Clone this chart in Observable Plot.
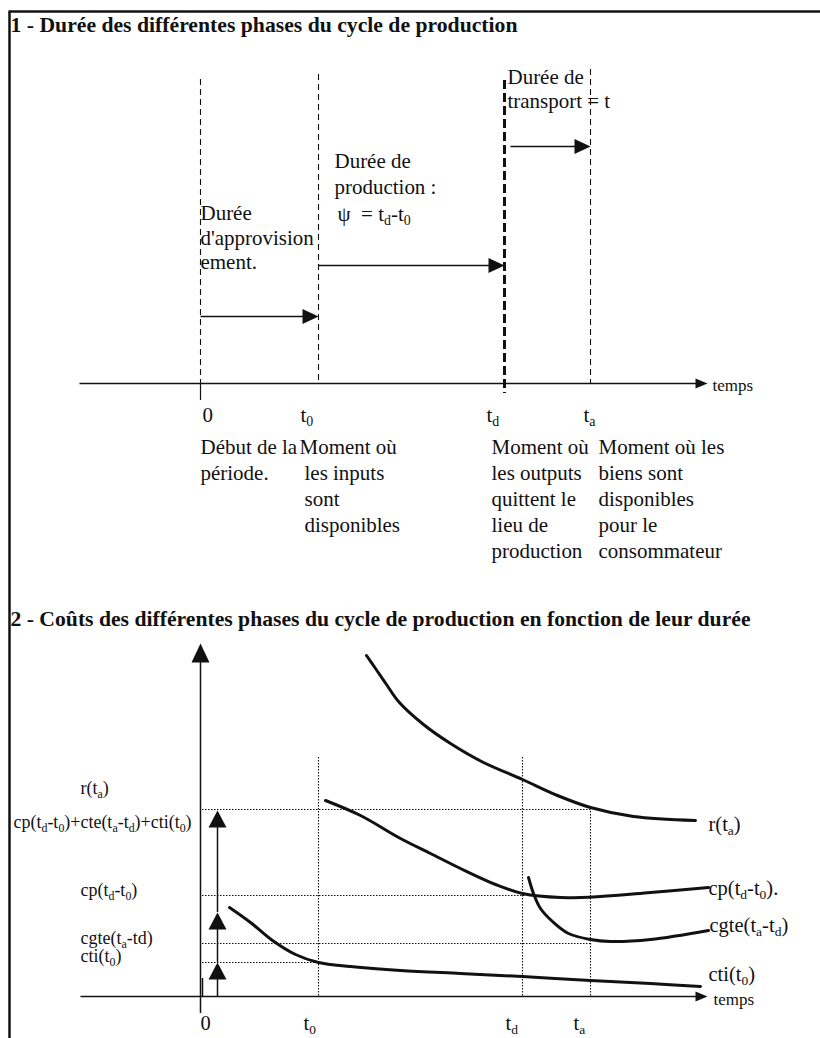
<!DOCTYPE html>
<html><head><meta charset="utf-8">
<script src="https://cdn.jsdelivr.net/npm/d3@7"></script>
<script src="https://cdn.jsdelivr.net/npm/@observablehq/plot@0.6"></script>
<style>html,body{margin:0;padding:0;background:#fff;overflow:hidden}</style>
</head><body><div id="chart"></div>
<script>
// ===== Data (diagram units) =====
const frameLines = [{x1:8,y1:11,x2:820,y2:11},{x1:9,y1:11,x2:9,y2:1038}];
const titles = [
  {x:10, y:25, len:507, text:"1 - Durée des différentes phases du cycle de production"},
  {x:10, y:619, len:740, text:"2 - Coûts des différentes phases du cycle de production en fonction de leur durée"}
];
// Section 1 : phase boundaries
const phaseLines = [
  {name:"0",  x:200, top:79, bottom:383, thick:false},
  {name:"t0", x:318, top:74, bottom:383, thick:false},
  {name:"td", x:504, top:80, bottom:393, thick:true},
  {name:"ta", x:590, top:69, bottom:383, thick:false}
];
const zeroTick1 = [{x:200, y1:383, y2:400}];
const durationArrows = [
  {phase:"approvisionnement", x1:200, x2:318, y:316},
  {phase:"production", x1:318, x2:504, y:265},
  {phase:"transport", x1:510, x2:590, y:146}
];
const timeAxis1 = [{x1:79, x2:707, y:383}];
const durationText = [
  {x:507, y:77, text:"Durée de"},
  {x:507, y:101, text:"transport = t"},
  {x:334, y:161, text:"Durée de"},
  {x:334, y:187, text:"production :"},
  {x:337, y:214, text:"ψ  = t_d-t_0"},
  {x:200, y:213, text:"Durée"},
  {x:200, y:238, text:"d'approvision"},
  {x:200, y:262, text:"ement."}
];
const tickLabels1 = [
  {x:202, text:"0"}, {x:300, text:"t_0"}, {x:486, text:"t_d"}, {x:583, text:"t_a"}
];
const momentText = [
  {x:200, row:0, text:"Début de la"}, {x:200, row:1, text:"période."},
  {x:299, row:0, text:"Moment où"}, {x:304, row:1, text:"les inputs"},
  {x:304, row:2, text:"sont"}, {x:304, row:3, text:"disponibles"},
  {x:491, row:0, text:"Moment où"}, {x:491, row:1, text:"les outputs"},
  {x:491, row:2, text:"quittent le"}, {x:491, row:3, text:"lieu de"},
  {x:491, row:4, text:"production"},
  {x:598, row:0, text:"Moment où les"}, {x:598, row:1, text:"biens sont"},
  {x:598, row:2, text:"disponibles"}, {x:598, row:3, text:"pour le"},
  {x:598, row:4, text:"consommateur"}
];
const momentRows = [447, 473, 499, 525, 551];

// Section 2 : costs
const costAxisX = [{x1:80, x2:707, y:996}];
const costAxisY = [{x:200, y1:1013, y2:643}];
const smallBar = [{x:202, y1:978, y2:996}];
const costLevels = [
  {name:"r(ta)", y:809, xEnd:590},
  {name:"cp", y:895, xEnd:525},
  {name:"cgte", y:943, xEnd:590},
  {name:"cti", y:962, xEnd:318}
];
const timeLines2 = [
  {name:"t0", x:318, top:757},
  {name:"td", x:522, top:757},
  {name:"ta", x:590, top:808}
];
const stackArrows = [
  {x:217, from:996, to:962},
  {x:217, from:962, to:912},
  {x:217, from:912, to:810}
];
const rCurve = [[366,655],[375,668],[386,684],[398,701],[423,724],[450,743],[483,762],[522,779],[557,795],[590,807],[633,816],[695,820]];
const cpCurve = [[325,800],[360,815],[400,838],[430,853],[460,868],[495,884],[522,893],[560,897],[600,896],[650,892],[708,887]];
const cgteCurve = [[528,877],[533,893],[540,908],[552,921],[568,933],[590,939],[610,941],[650,939],[708,930]];
const ctiCurve = [[229,907],[250,922],[272,940],[295,954],[318,962],[350,966],[400,970],[460,973],[522,976],[590,980],[650,983],[700,986]];
const leftLabels = [
  {x:80, y:788, text:"r(t_a)"},
  {x:13, y:822, text:"cp(t_d-t_0)+cte(t_a-t_d)+cti(t_0)"},
  {x:80, y:890, text:"cp(t_d-t_0)"},
  {x:80, y:938, text:"cgte(t_a-td)"},
  {x:80, y:956, text:"cti(t_0)"}
];
const rightLabels = [
  {x:708, y:824, text:"r(t_a)"},
  {x:708, y:888, text:"cp(t_d-t_0)."},
  {x:709, y:925, text:"cgte(t_a-t_d)"},
  {x:708, y:974, text:"cti(t_0)"}
];
const tickLabels2 = [
  {x:200, text:"0"}, {x:303, text:"t_0"}, {x:505, text:"t_d"}, {x:573, text:"t_a"}
];
const axisWords = [{x:712, y:385, text:"temps"}, {x:713, y:999, text:"temps"}];

// ===== Font selection (Times-like serif, size-normalised) =====
const probe = document.createElement("canvas").getContext("2d");
function hasFont(name){
  const s = "mmmmmmmmmmlliWWQ@#&";
  return ["monospace","sans-serif","serif"].some(g => {
    probe.font = `40px ${g}`; const w0 = probe.measureText(s).width;
    probe.font = `40px "${name}", ${g}`; return Math.abs(probe.measureText(s).width - w0) > 0.5;
  });
}
const fontName = ["Liberation Serif","Times New Roman","Tinos","Nimbus Roman","Nimbus Roman No9 L","FreeSerif","Noto Serif","DejaVu Serif"].find(hasFont);
const FONT = fontName ? `"${fontName}", serif` : "serif";
probe.font = `100px ${FONT}`;
const K = Math.min(1.15, Math.max(0.75, 433 / probe.measureText("production").width)); // Times: "production" = 4.33em
const FS = 21 * K, FSL = 18 * K, FSR = 20.5 * K, FST = 21.5 * K, FSW = 17 * K;
const txt = {textAnchor:"start", lineAnchor:"middle", fill:"#111", fontFamily:FONT};

// ===== Arrowhead symbols =====
function headRight(L, W){ return {draw(ctx){ ctx.moveTo(0,0); ctx.lineTo(-L,-W); ctx.lineTo(-L,W); ctx.closePath(); }}; }
function headUp(L, W){ return {draw(ctx){ ctx.moveTo(0,0); ctx.lineTo(-W,L); ctx.lineTo(W,L); ctx.closePath(); }}; }

const chart = Plot.plot({
  width: 820, height: 1038, margin: 0,
  x: {domain:[0,820], range:[0,820], axis:null},
  y: {domain:[0,1038], range:[0,1038], axis:null},
  style: {fontFamily:FONT, background:"#fff", color:"#111"},
  marks: [
    Plot.link(frameLines, {x1:"x1", y1:"y1", x2:"x2", y2:"y2", stroke:"#111", strokeWidth:2.5}),
    Plot.text(titles, {...txt, x:"x", y:"y", text:"text", fontSize:FST, fontWeight:"bold", className:"ttl"}),
    // section 1
    Plot.ruleX(phaseLines.filter(d=>!d.thick), {x:"x", y1:"top", y2:"bottom", stroke:"#111", strokeWidth:1.1, strokeDasharray:"6,4"}),
    Plot.ruleX(phaseLines.filter(d=>d.thick), {x:"x", y1:"top", y2:"bottom", stroke:"#111", strokeWidth:3, strokeDasharray:"9,4"}),
    Plot.ruleX(zeroTick1, {x:"x", y1:"y1", y2:"y2", stroke:"#111", strokeWidth:1.2}),
    Plot.link(timeAxis1, {x1:"x1", x2:d=>d.x2-6, y1:"y", y2:"y", stroke:"#111", strokeWidth:1.5}),
    Plot.dot(timeAxis1, {x:"x2", y:"y", symbol:headRight(12,5), fill:"#111", stroke:"none"}),
    Plot.link(durationArrows, {x1:"x1", x2:d=>d.x2-8, y1:"y", y2:"y", stroke:"#111", strokeWidth:1.5}),
    Plot.dot(durationArrows, {x:"x2", y:"y", symbol:headRight(16,7.5), fill:"#111", stroke:"none"}),
    Plot.text(durationText, {...txt, x:"x", y:"y", text:"text", fontSize:FS}),
    Plot.text(tickLabels1, {...txt, x:"x", y:()=>415, text:"text", fontSize:FS}),
    Plot.text(momentText, {...txt, x:"x", y:d=>momentRows[d.row], text:"text", fontSize:FS}),
    // section 2
    Plot.ruleY(costLevels, {y:"y", x1:()=>202, x2:"xEnd", stroke:"#111", strokeWidth:1.1, strokeDasharray:"1.5,1.5"}),
    Plot.ruleX(timeLines2, {x:"x", y1:"top", y2:()=>996, stroke:"#111", strokeWidth:1.1, strokeDasharray:"1.5,1.5"}),
    Plot.link(costAxisX, {x1:"x1", x2:d=>d.x2-6, y1:"y", y2:"y", stroke:"#111", strokeWidth:1.5}),
    Plot.dot(costAxisX, {x:"x2", y:"y", symbol:headRight(12,5), fill:"#111", stroke:"none"}),
    Plot.ruleX(costAxisY, {x:"x", y1:"y1", y2:d=>d.y2+10, stroke:"#111", strokeWidth:1.5}),
    Plot.dot(costAxisY, {x:"x", y:"y2", symbol:headUp(19,9), fill:"#111", stroke:"none"}),
    Plot.ruleX(smallBar, {x:"x", y1:"y1", y2:"y2", stroke:"#111", strokeWidth:1.5}),
    Plot.ruleX(stackArrows, {x:"x", y1:"from", y2:d=>d.to+8, stroke:"#111", strokeWidth:1.5}),
    Plot.dot(stackArrows, {x:"x", y:"to", symbol:headUp(17,9), fill:"#111", stroke:"none"}),
    Plot.line(rCurve, {x:d=>d[0], y:d=>d[1], curve:"catmull-rom", stroke:"#111", strokeWidth:3}),
    Plot.line(cpCurve, {x:d=>d[0], y:d=>d[1], curve:"catmull-rom", stroke:"#111", strokeWidth:3}),
    Plot.line(cgteCurve, {x:d=>d[0], y:d=>d[1], curve:"catmull-rom", stroke:"#111", strokeWidth:3}),
    Plot.line(ctiCurve, {x:d=>d[0], y:d=>d[1], curve:"catmull-rom", stroke:"#111", strokeWidth:3}),
    Plot.text(leftLabels, {...txt, x:"x", y:"y", text:"text", fontSize:FSL}),
    Plot.text(rightLabels, {...txt, x:"x", y:"y", text:"text", fontSize:FSR}),
    Plot.text(tickLabels2, {...txt, x:"x", y:()=>1023, text:"text", fontSize:FSR}),
    Plot.text(axisWords, {...txt, x:"x", y:"y", text:"text", fontSize:FSW})
  ]
});

// titles: fit to the reference width
chart.querySelectorAll(".ttl text").forEach((el, i) => {
  el.setAttribute("textLength", titles[i].len);
  el.setAttribute("lengthAdjust", "spacingAndGlyphs");
});

// subscripts: "_x" -> lowered, smaller character
const NS = "http://www.w3.org/2000/svg";
chart.querySelectorAll("text").forEach(el => {
  el.style.fontFamily = FONT;
  const targets = el.querySelector("tspan") ? Array.from(el.querySelectorAll("tspan")) : [el];
  targets.forEach(t => {
    const s = t.textContent;
    if (!s.includes("_")) return;
    let fs = 18;
    for (let n = el; n && n.getAttribute; n = n.parentNode) {
      const v = n.getAttribute("font-size");
      if (v) { fs = parseFloat(v); break; }
    }
    const shift = Math.round(fs * 0.2);
    t.textContent = "";
    const parts = s.split(/_(\w)/);
    let low = false;
    parts.forEach((p, i) => {
      if (!p) return;
      const sp = document.createElementNS(NS, "tspan");
      sp.textContent = p;
      if (i % 2 === 1) {
        sp.setAttribute("font-size", (fs * 0.66).toFixed(1));
        if (!low) { sp.setAttribute("dy", shift); low = true; }
      } else if (low) {
        sp.setAttribute("dy", -shift); low = false;
      }
      t.appendChild(sp);
    });
  });
});
document.getElementById("chart").appendChild(chart);
</script>
</body></html>
